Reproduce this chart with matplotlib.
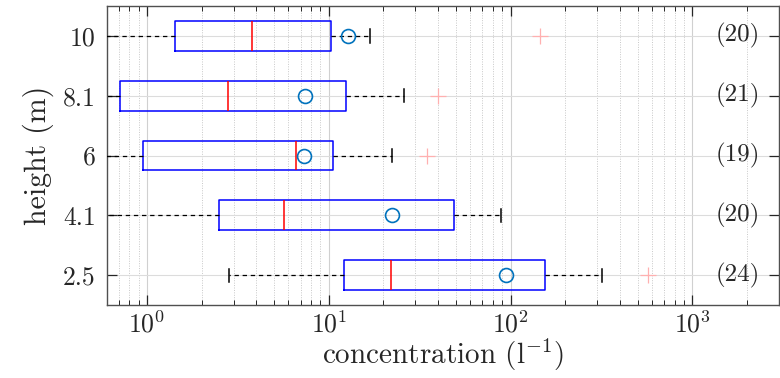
import matplotlib
matplotlib.use("Agg")
import matplotlib.pyplot as plt
from matplotlib.ticker import LogLocator, NullFormatter

plt.rcParams["font.family"] = "serif"
plt.rcParams["font.serif"] = ["cmr10"]
plt.rcParams["mathtext.fontset"] = "cm"
plt.rcParams["axes.formatter.use_mathtext"] = True
plt.rcParams["axes.unicode_minus"] = False

# Heights (m) from bottom to top and the number of samples at each
heights = ["2.5", "4.1", "6", "8.1", "10"]
counts = [24, 20, 19, 21, 20]

# Box statistics of concentration (l^-1) per height
q1 = [12.2, 2.5, 0.95, 0.71, 1.42]
med = [21.9, 5.7, 6.6, 2.8, 3.76]
q3 = [154.0, 49.0, 10.6, 12.4, 10.3]
whislo = [2.83, 0.2, 0.3, 0.4, 0.3]
whishi = [318.0, 89.0, 22.3, 25.9, 16.8]
means = [94.7, 22.2, 7.3, 7.4, 12.7]
fliers = [[568.0], [], [34.7], [39.8], [146.0]]

stats = []
for i in range(len(heights)):
    stats.append(dict(q1=q1[i], med=med[i], q3=q3[i], whislo=whislo[i],
                      whishi=whishi[i], mean=means[i], fliers=fliers[i],
                      label=heights[i]))

fig = plt.figure(figsize=(7.8, 3.78), dpi=100)
ax = fig.add_axes([0.1368, 0.193, 0.8619, 0.791])

positions = list(range(1, len(heights) + 1))
ax.bxp(stats, positions=positions, orientation="horizontal", widths=0.5,
       showmeans=True, showfliers=True, patch_artist=False,
       boxprops=dict(color="#0000ff", linewidth=1.1),
       medianprops=dict(color="#ff0000", linewidth=1.1),
       whiskerprops=dict(color="black", linestyle=(0, (3.5, 3)), linewidth=0.9),
       capprops=dict(color="black", linewidth=1.1),
       capwidths=0.22,
       meanprops=dict(marker="o", markerfacecolor="none",
                      markeredgecolor="#0072BD", markersize=10,
                      markeredgewidth=1.2, linestyle="none"),
       flierprops=dict(marker="+", markeredgecolor="#ffb0b0",
                       markersize=11, markeredgewidth=0.9, linestyle="none"),
       zorder=3)

ax.set_xscale("log")
ax.set_xlim(0.6, 3000)
ax.set_ylim(0.5, 5.5)

ax.set_yticks(positions)
ax.set_yticklabels(heights)

ax.xaxis.set_major_locator(LogLocator(base=10, numticks=10))
ax.xaxis.set_minor_locator(LogLocator(base=10, subs=range(2, 10), numticks=20))
ax.xaxis.set_minor_formatter(NullFormatter())

ax.grid(True, which="major", axis="x", color="#d0d0d0", linewidth=0.8)
ax.grid(True, which="minor", axis="x", color="#c8c8c8", linewidth=0.7,
        linestyle=(0, (1, 1.5)))
ax.grid(True, which="major", axis="y", color="#dcdcdc", linewidth=0.8)
ax.set_axisbelow(True)

ax.tick_params(axis="both", which="major", direction="in", length=7,
               width=0.9, colors="#262626", labelsize=18.5,
               labelcolor="#262626", top=True, right=True)
ax.tick_params(axis="x", which="minor", direction="in", length=3.5,
               width=0.7, colors="#262626", top=True)
ax.tick_params(axis="x", which="major", pad=4)
ax.tick_params(axis="y", which="major", pad=8)

for s in ax.spines.values():
    s.set_color("#505050")
    s.set_linewidth(1.0)

for p, n in zip(positions, counts):
    ax.text(0.972, p, f"({n})", transform=ax.get_yaxis_transform(),
            ha="right", va="center", fontsize=18, color="#262626")

ax.set_xlabel(r"concentration (l$^{-1}$)", fontsize=21, color="#262626")
ax.xaxis.set_label_coords(0.5, -0.108)
ax.set_ylabel("height (m)", fontsize=21.5, color="#262626", labelpad=6)

fig.savefig("out.png", dpi=100)
